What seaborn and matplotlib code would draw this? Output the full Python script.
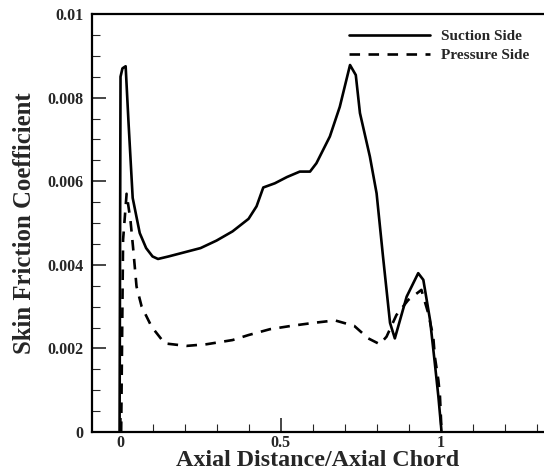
import matplotlib
matplotlib.use("Agg")
import matplotlib.pyplot as plt
import numpy as np
import pandas as pd
import seaborn as sns
from matplotlib.ticker import MultipleLocator, FixedLocator, FixedFormatter

# values
suction_x = [-0.003, 0.0, 0.006, 0.016, 0.025, 0.038, 0.06, 0.08, 0.1, 0.117, 0.15,
             0.2, 0.25, 0.3, 0.35, 0.4, 0.425, 0.446, 0.482, 0.52, 0.56, 0.592,
             0.612, 0.654, 0.685, 0.717, 0.735, 0.748, 0.779, 0.8, 0.82, 0.842,
             0.857, 0.894, 0.93, 0.946, 0.967, 0.982, 0.993, 1.003]
suction_cf = [0.0, 0.0085, 0.0087, 0.00875, 0.0074, 0.0056, 0.00476, 0.0044, 0.0042,
              0.00414, 0.0042, 0.0043, 0.0044, 0.00458, 0.0048, 0.0051, 0.0054,
              0.00585, 0.00595, 0.0061, 0.00623, 0.00623, 0.00643, 0.00707,
              0.00778, 0.00878, 0.00854, 0.00763, 0.00659, 0.00571, 0.0042,
              0.00261, 0.00224, 0.00324, 0.0038, 0.00364, 0.00268, 0.00164,
              0.00085, 0.0]

pressure_x = [0.002, 0.008, 0.019, 0.031, 0.039, 0.05, 0.066, 0.097, 0.138, 0.206,
              0.269, 0.35, 0.4, 0.467, 0.534, 0.602, 0.67, 0.73, 0.774, 0.81,
              0.831, 0.862, 0.899, 0.94, 0.961, 0.977, 0.982, 0.993, 0.998, 1.003]
pressure_cf = [0.0, 0.0046, 0.0057, 0.00507, 0.00443, 0.00348, 0.003, 0.00252,
               0.00212, 0.00206, 0.0021, 0.0022, 0.00232, 0.00246, 0.00254, 0.00261,
               0.00267, 0.00254, 0.00224, 0.0021, 0.00228, 0.0028, 0.00316, 0.0034,
               0.00285, 0.00228, 0.0018, 0.00124, 0.00085, 0.0]

labels = ["Suction Side", "Pressure Side"]
ytick_vals = [0, 0.002, 0.004, 0.006, 0.008, 0.01]
ytick_txt = ["0", "0.002", "0.004", "0.006", "0.008", "0.01"]
xtick_vals = [0, 0.5, 1]
xtick_txt = ["0", "0.5", "1"]

df = pd.concat([
    pd.DataFrame({"x": suction_x, "cf": suction_cf, "side": labels[0]}),
    pd.DataFrame({"x": pressure_x, "cf": pressure_cf, "side": labels[1]}),
], ignore_index=True)

sns.set_style("ticks")
plt.rcParams["font.family"] = ["Liberation Serif", "DejaVu Serif"]
plt.rcParams["font.weight"] = "bold"

fig = plt.figure(figsize=(5.44, 4.75), dpi=100)
ax = fig.add_axes([0.1686, 0.0905, 0.8314, 0.8800])

sns.lineplot(data=df, x="x", y="cf", style="side", sort=False, estimator=None,
             color="black", linewidth=1.9,
             dashes={labels[0]: "", labels[1]: (4, 3.2)}, ax=ax)

ax.set_xlim(-0.09, 1.323)
ax.set_ylim(0, 0.01)

ax.xaxis.set_major_locator(FixedLocator(xtick_vals))
ax.xaxis.set_major_formatter(FixedFormatter(xtick_txt))
ax.xaxis.set_minor_locator(MultipleLocator(0.1))
ax.yaxis.set_major_locator(FixedLocator(ytick_vals))
ax.yaxis.set_major_formatter(FixedFormatter(ytick_txt))
ax.yaxis.set_minor_locator(MultipleLocator(0.0005))

ax.tick_params(which="major", direction="in", length=10, width=1.2,
               labelsize=11.5, pad=6, top=False, right=False)
ax.tick_params(axis="x", which="major", pad=2)
ax.tick_params(which="minor", direction="in", length=6, width=0.8,
               top=False, right=False)
for lab in ax.get_xticklabels() + ax.get_yticklabels():
    lab.set_fontweight("bold")

for side in ["left", "bottom", "top"]:
    ax.spines[side].set_linewidth(1.6)
    ax.spines[side].set_color("black")
ax.spines["right"].set_visible(False)

ax.set_xlabel("Axial Distance/Axial Chord", fontsize=17.3, fontweight="bold", labelpad=-0.5)
ax.set_ylabel("Skin Friction Coefficient", fontsize=17.8, fontweight="bold", labelpad=8)

h, l = ax.get_legend_handles_labels()
leg = ax.legend(h, l, loc="upper right", bbox_to_anchor=(0.998, 0.996), frameon=False,
                handlelength=5.3, handletextpad=0.75, labelspacing=0.35,
                prop={"family": "Liberation Serif", "weight": "bold", "size": 11})
for line in leg.get_lines():
    line.set_linewidth(1.9)

fig.savefig("out.png", dpi=100)
